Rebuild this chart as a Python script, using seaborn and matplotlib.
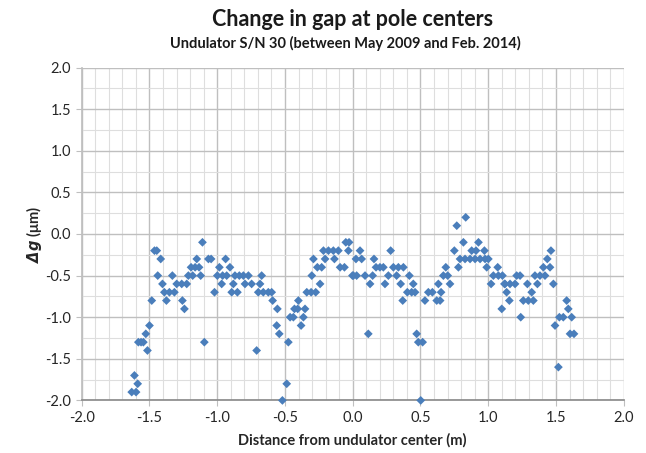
import numpy as np
import pandas as pd
import matplotlib
matplotlib.use("Agg")
import matplotlib.pyplot as plt
from matplotlib.ticker import MultipleLocator
import seaborn as sns

# Position along the undulator (m)
x_pos = [
    -1.631, -1.611, -1.599, -1.587, -1.582, -1.562, -1.545, -1.527, -1.515, -1.500,
    -1.483, -1.463, -1.446, -1.439, -1.417, -1.404, -1.390, -1.375, -1.353, -1.331,
    -1.316, -1.299, -1.262, -1.257, -1.242, -1.225, -1.213, -1.193, -1.181, -1.163,
    -1.151, -1.134, -1.122, -1.109, -1.095,
    -1.065, -1.045, -1.020, -0.999, -0.984, -0.967, -0.960, -0.938, -0.930, -0.906,
    -0.893, -0.881, -0.869, -0.851, -0.837, -0.807, -0.795, -0.770, -0.746, -0.709,
    -0.697, -0.684, -0.672, -0.660, -0.623, -0.598, -0.591, -0.561, -0.556, -0.542,
    -0.519, -0.487, -0.475, -0.462, -0.438, -0.430, -0.406, -0.401, -0.381, -0.364,
    -0.352, -0.339, -0.307, -0.302, -0.290, -0.273, -0.261, -0.241, -0.229, -0.216,
    -0.204, -0.179, -0.143, -0.135, -0.106, -0.093, -0.061, -0.051, -0.032, -0.027,
    -0.002,
    0.005, 0.029, 0.024, 0.054, 0.066, 0.091, 0.115, 0.128, 0.147, 0.157,
    0.172, 0.201, 0.226, 0.238, 0.263, 0.280, 0.300, 0.324, 0.337, 0.354,
    0.369, 0.374, 0.403, 0.418, 0.435, 0.447, 0.460, 0.472, 0.484, 0.502,
    0.516, 0.533, 0.558,
    0.588, 0.620, 0.632, 0.645, 0.652, 0.669, 0.687, 0.701, 0.718, 0.750,
    0.768, 0.780, 0.792, 0.817, 0.829, 0.834, 0.866, 0.878, 0.903, 0.910,
    0.928, 0.940, 0.972, 0.977, 0.989, 1.001, 1.021, 1.038, 1.070, 1.075,
    1.105, 1.100, 1.120,
    1.124, 1.136, 1.156, 1.161, 1.198, 1.210, 1.235, 1.240, 1.259, 1.289,
    1.296, 1.321, 1.333, 1.345, 1.363, 1.382, 1.407, 1.419, 1.436, 1.456,
    1.463, 1.481, 1.493, 1.518, 1.525, 1.554, 1.579, 1.591, 1.604, 1.616,
    1.633,
]

# Change in gap (micrometres)
dg = [
    -1.9, -1.7, -1.9, -1.8, -1.3, -1.3, -1.3, -1.2, -1.4, -1.1,
    -0.8, -0.2, -0.2, -0.5, -0.3, -0.6, -0.7, -0.8, -0.7, -0.5,
    -0.7, -0.6, -0.6, -0.8, -0.9, -0.6, -0.5, -0.4, -0.5, -0.4,
    -0.3, -0.4, -0.5, -0.1, -1.3,
    -0.3, -0.3, -0.7, -0.5, -0.4, -0.6, -0.5, -0.3, -0.5, -0.4,
    -0.7, -0.6, -0.5, -0.7, -0.5, -0.5, -0.6, -0.5, -0.6, -1.4,
    -0.7, -0.6, -0.5, -0.7, -0.7, -0.7, -0.8, -1.1, -0.9, -1.2,
    -2.0, -1.8, -1.3, -1.0, -1.0, -0.9, -0.9, -0.8, -1.1, -1.0,
    -0.9, -0.7, -0.7, -0.5, -0.3, -0.7, -0.4, -0.6, -0.4, -0.2,
    -0.3, -0.2, -0.2, -0.3, -0.2, -0.4, -0.4, -0.1, -0.2, -0.1,
    -0.5,
    -0.5, -0.5, -0.3, -0.2, -0.3, -0.5, -1.2, -0.6, -0.5, -0.3,
    -0.4, -0.4, -0.4, -0.6, -0.5, -0.2, -0.4, -0.5, -0.4, -0.6,
    -0.8, -0.4, -0.7, -0.5, -0.7, -0.6, -0.7, -1.2, -1.3, -2.0,
    -1.3, -0.8, -0.7,
    -0.7, -0.8, -0.6, -0.8, -0.7, -0.5, -0.4, -0.5, -0.6, -0.2,
    0.1, -0.4, -0.3, -0.1, -0.3, 0.2, -0.3, -0.2, -0.3, -0.2,
    -0.1, -0.3, -0.2, -0.3, -0.4, -0.3, -0.6, -0.5, -0.4, -0.5,
    -0.5, -0.9, -0.6,
    -0.6, -0.7, -0.8, -0.6, -0.6, -0.5, -0.5, -1.0, -0.8, -0.6,
    -0.8, -0.7, -0.8, -0.5, -0.6, -0.5, -0.4, -0.5, -0.3, -0.4,
    -0.2, -0.6, -1.1, -1.6, -1.0, -1.0, -0.8, -0.9, -1.2, -1.0,
    -1.2,
]

x_ticks = [-2.0, -1.5, -1.0, -0.5, 0.0, 0.5, 1.0, 1.5, 2.0]
y_ticks = [-2.0, -1.5, -1.0, -0.5, 0.0, 0.5, 1.0, 1.5, 2.0]

title = "Change in gap at pole centers"
subtitle = "Undulator S/N 30 (between May 2009 and Feb. 2014)"
x_label = "Distance from undulator center (m)"

df = pd.DataFrame({"x": x_pos, "dg": dg})

sns.set_theme(style="white")
plt.rcParams["font.family"] = ["Lato", "DejaVu Sans"]

fig = plt.figure(figsize=(6.46, 4.53), dpi=100)
ax = fig.add_axes([0.1265, 0.1161, 0.839, 0.7347])

sns.scatterplot(data=df, x="x", y="dg", marker="D", s=20, color="#4A7EBB",
                edgecolor="none", linewidth=0, ax=ax, zorder=3)
for coll in ax.collections:
    coll.set_clip_on(False)

ax.set_xlim(-2.0, 2.0)
ax.set_ylim(-2.0, 2.0)
ax.set_xticks(x_ticks)
ax.set_yticks(y_ticks)
ax.set_xticklabels([f"{v:.1f}" for v in x_ticks])
ax.set_yticklabels([f"{v:.1f}" for v in y_ticks])
ax.xaxis.set_minor_locator(MultipleLocator(0.1))
ax.yaxis.set_minor_locator(MultipleLocator(0.25))
ax.grid(which="major", color="#BFBFBF", linewidth=1.0)
ax.grid(which="minor", color="#DEDEDE", linewidth=0.8)
ax.set_axisbelow(True)

for s in ["top", "right"]:
    ax.spines[s].set_visible(False)
ax.spines["left"].set_color("#BFBFBF")
ax.spines["bottom"].set_color("#8C8C8C")
ax.tick_params(axis="both", which="major", labelsize=10.5, colors="#404040",
               length=4, width=0.8, direction="out", color="#BFBFBF",
               left=True, bottom=True)
ax.tick_params(axis="both", which="minor", length=0)
for lab in ax.get_xticklabels() + ax.get_yticklabels():
    lab.set_color("#262626")

ax.set_xlabel(x_label, fontsize=10.5, fontweight="bold", color="#262626", labelpad=6)
ax.set_ylabel("")
fig.text(0.052, 0.483, r"$\mathbfit{\Delta g}$" + " (μm)", rotation=90,
         ha="center", va="center", fontsize=10.5, fontweight="bold", color="#262626")

fig.text(0.545, 0.958, title, ha="center", va="center", fontsize=15.5,
         fontweight="bold", color="#1a1a1a")
fig.text(0.535, 0.905, subtitle, ha="center", va="center", fontsize=10.5,
         fontweight="bold", color="#1a1a1a")

fig.savefig("out.png", dpi=100)
